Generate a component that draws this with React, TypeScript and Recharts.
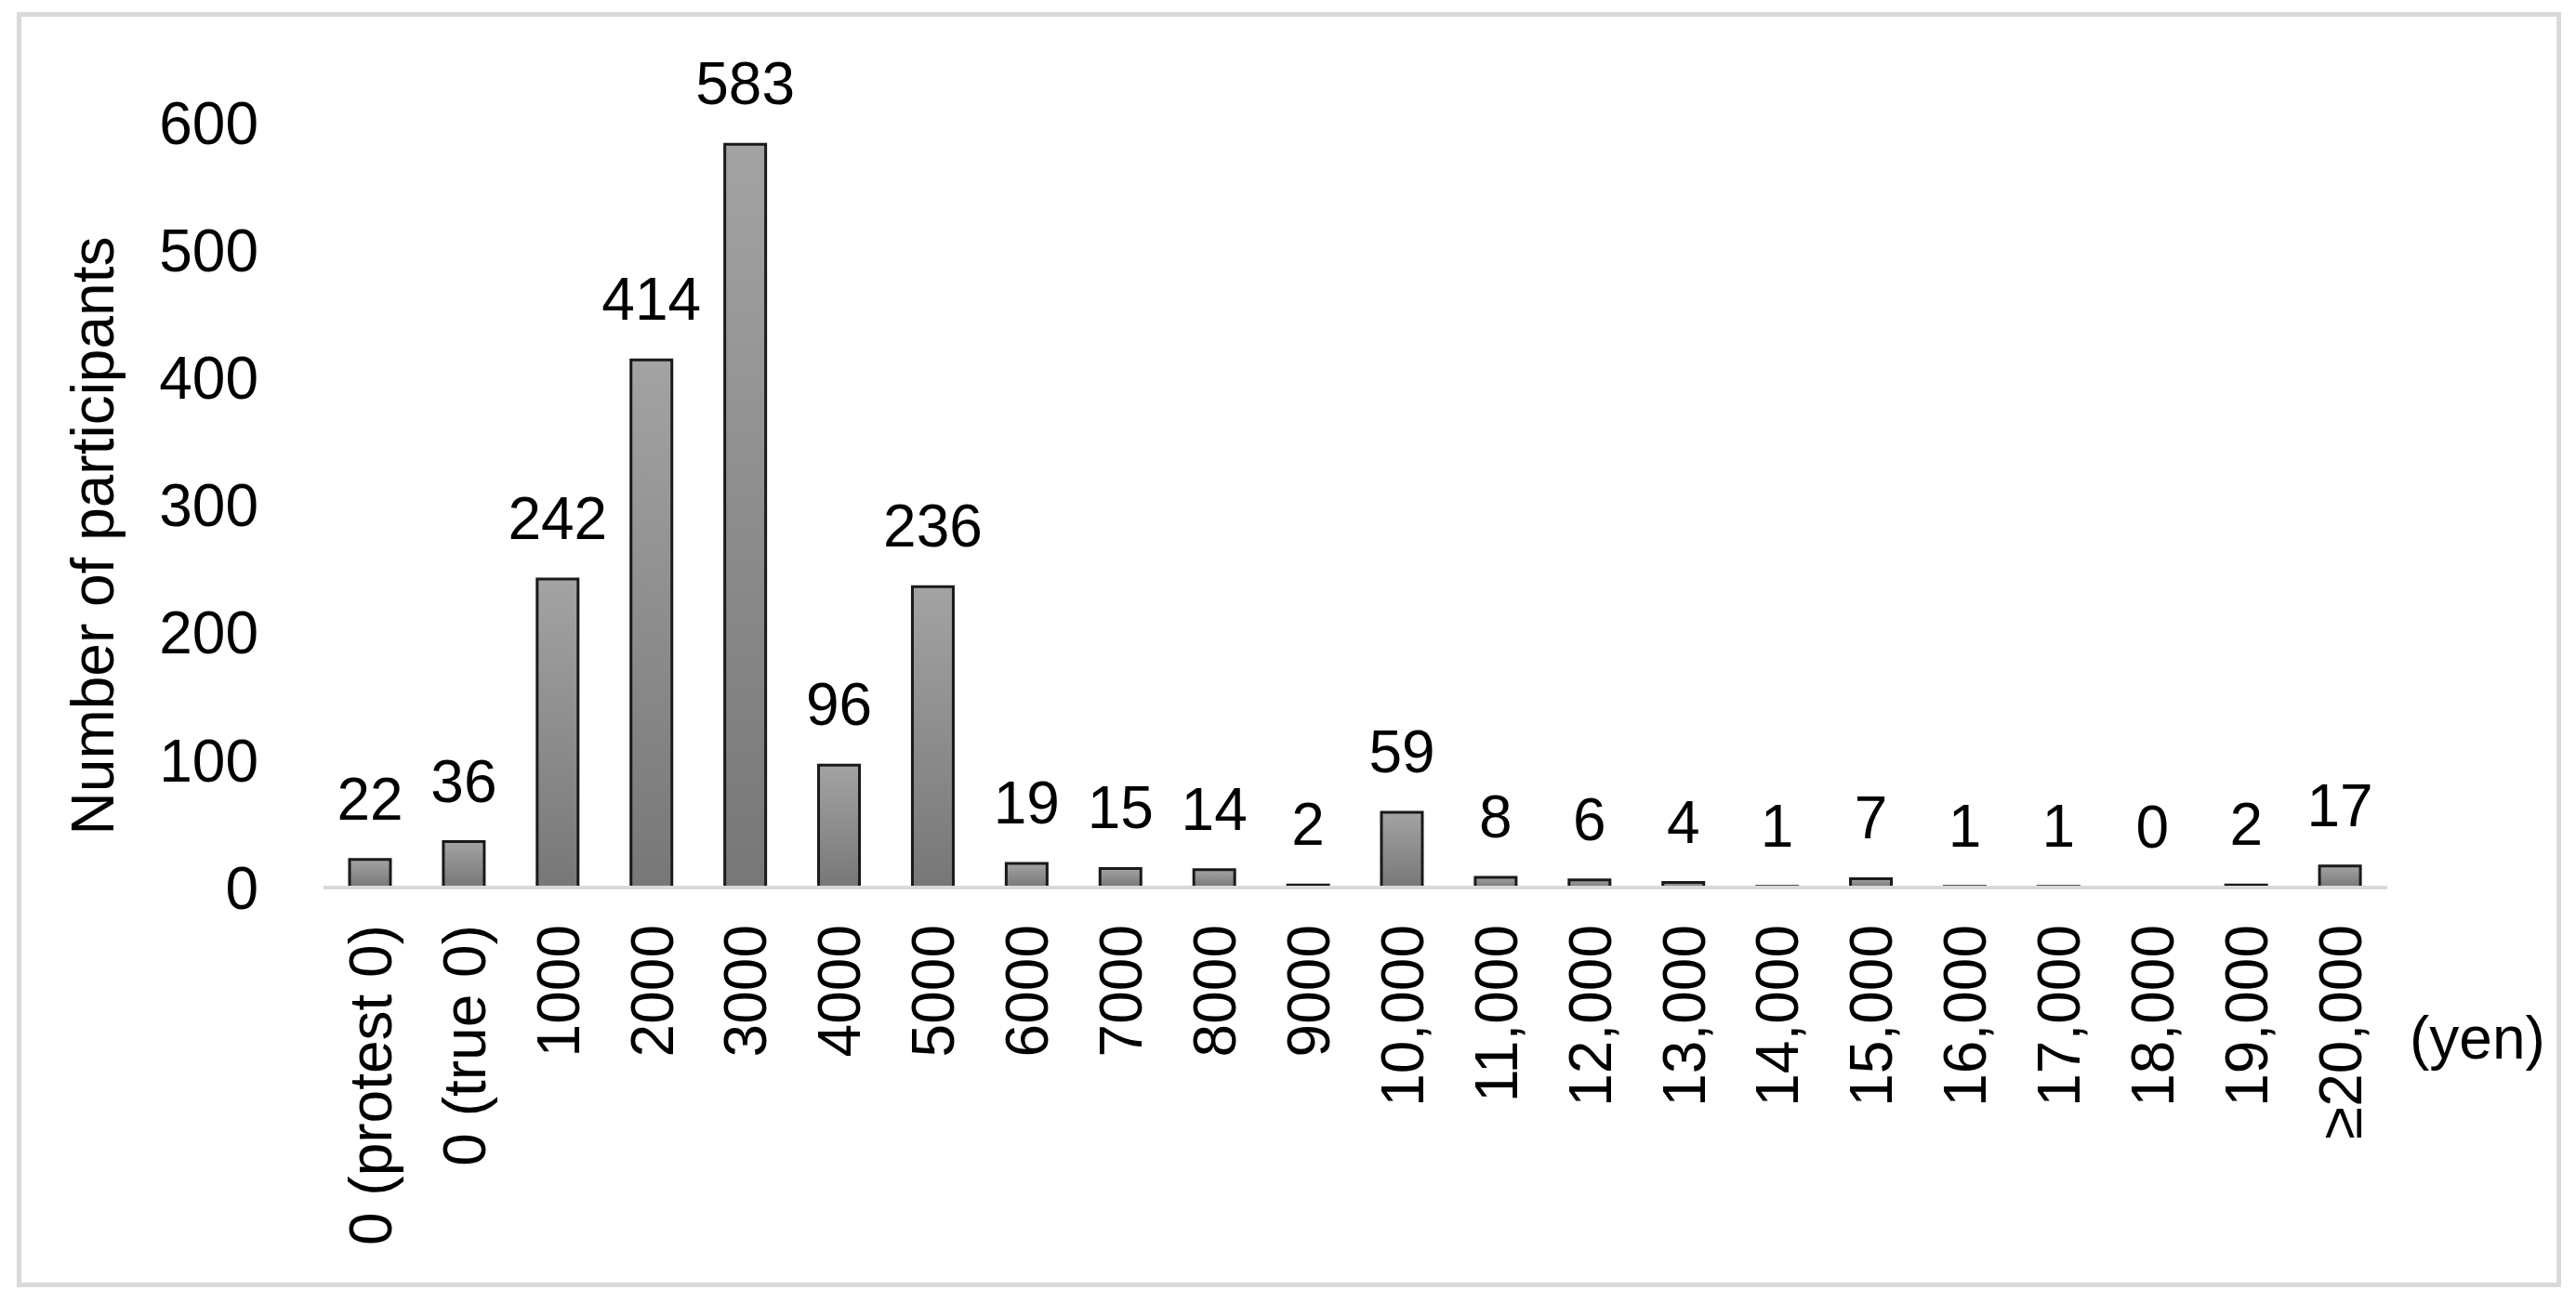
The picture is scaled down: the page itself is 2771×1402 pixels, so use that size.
import React from 'react';
import { BarChart, Bar, XAxis, YAxis, LabelList, Label, Rectangle } from 'recharts';

const categories = [
    '0 (protest 0)', '0 (true 0)', '1000', '2000', '3000', '4000', '5000', '6000', '7000', '8000', '9000',
    '10,000', '11,000', '12,000', '13,000', '14,000', '15,000', '16,000', '17,000', '18,000', '19,000', '≥20,000',
];
const participants = [22, 36, 242, 414, 583, 96, 236, 19, 15, 14, 2, 59, 8, 6, 4, 1, 7, 1, 1, 0, 2, 17];
const yTicks = [0, 100, 200, 300, 400, 500, 600];

const data = categories.map((name, i) => ({ name, count: participants[i] }));

const FONT = '"Liberation Sans", Arial, sans-serif';

const RotatedTick = (props: any) => {
    const { x, y, payload } = props;
    return (
        <g transform={`translate(${x},${y})`}>
            <text transform="rotate(-90)" textAnchor="end" dy="0.35em" fontSize={64} fontFamily={FONT} fill="#000">
                {payload.value}
            </text>
        </g>
    );
};

const YTitle = (props: any) => {
    const vb = props.viewBox;
    const cx = vb.x + 100;
    const cy = vb.y + vb.height / 2 + 33;
    return (
        <text transform={`translate(${cx},${cy}) rotate(-90)`} textAnchor="middle" dy="0.35em" fontSize={64} fontFamily={FONT} fill="#000">
            Number of participants
        </text>
    );
};

const YenLabel = (props: any) => {
    const vb = props.viewBox;
    return (
        <text x={vb.x + vb.width + 24} y={vb.y + 162} dy="0.35em" fontSize={64} fontFamily={FONT} fill="#000">
            (yen)
        </text>
    );
};

// zero-valued bar gets a 1px min height so it keeps its label, but no rect is drawn
const BarShape = (props: any) => {
    if (props.payload && props.payload.count === 0) return <g />;
    return <Rectangle {...props} />;
};

const ValueLabel = (props: any) => {
    const { x, y, width, height, value } = props;
    if (x == null || y == null) return null;
    const top = value === 0 ? Number(y) + Number(height) : Number(y);
    return (
        <text x={Number(x) + Number(width) / 2} y={top - 43} textAnchor="middle" fontSize={64} fontFamily={FONT} fill="#000">
            {String(value)}
        </text>
    );
};

const App: React.FC = () => {
    return (
        <div style={{ position: 'absolute', left: 0, top: 0, width: 2771, height: 1402, background: '#fff' }}>
            <div
                style={{
                    position: 'absolute', left: 18, top: 13, width: 2737, height: 1372,
                    border: '5px solid #d9d9d9', boxSizing: 'border-box',
                }}
            />
            <BarChart
                width={2771}
                height={1402}
                data={data}
                margin={{ top: 132, right: 203, left: 0, bottom: 0 }}
                style={{ position: 'absolute', left: 0, top: 0 }}
            >
                <defs>
                    <linearGradient id="barFill" x1="0" y1="0" x2="0" y2="1">
                        <stop offset="0%" stopColor="#a3a3a3" />
                        <stop offset="100%" stopColor="#777777" />
                    </linearGradient>
                </defs>
                <XAxis
                    dataKey="name"
                    interval={0}
                    height={447}
                    tickLine={false}
                    tickSize={0}
                    tickMargin={40}
                    axisLine={{ stroke: '#d9d9d9', strokeWidth: 4 }}
                    tick={<RotatedTick />}
                >
                    <Label content={<YenLabel />} />
                </XAxis>
                <YAxis
                    domain={[0, 600]}
                    ticks={yTicks}
                    width={348}
                    axisLine={false}
                    tickLine={false}
                    tickSize={0}
                    tickMargin={70}
                    tick={{ fill: '#000', fontSize: 64, fontFamily: FONT }}
                >
                    <Label content={<YTitle />} />
                </YAxis>
                <Bar
                    dataKey="count"
                    fill="url(#barFill)"
                    stroke="#1a1a1a"
                    strokeWidth={3}
                    barSize={44}
                    minPointSize={1}
                    shape={<BarShape />}
                    isAnimationActive={false}
                >
                    <LabelList dataKey="count" content={<ValueLabel />} />
                </Bar>
            </BarChart>
        </div>
    );
};

export default App;
